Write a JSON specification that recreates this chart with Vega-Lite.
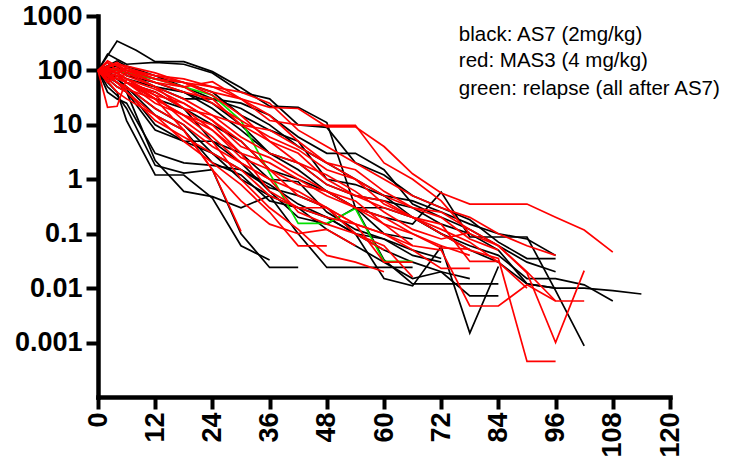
{
"$schema":"https://vega.github.io/schema/vega-lite/v6.json",
"autosize":"none",
"width":572,"height":381,
"padding":{"left":98,"top":16,"right":60,"bottom":62},
"background":"white",
"config":{"view":{"stroke":null},
"axis":{"domainColor":"#000","domainWidth":4.5,"domainCap":"square","tickColor":"#000","tickWidth":4,"tickSize":12,"labelColor":"#000","labelFont":"Liberation Sans","labelFontWeight":"bold","labelFontSize":27,"grid":false,"labelFlush":false,"labelOverlap":false,"title":null}},
"datasets":{
"b":[
{"s":"B1","t":0,"v":100},{"s":"B1","t":4,"v":347},{"s":"B1","t":8,"v":235},{"s":"B1","t":12,"v":145},{"s":"B1","t":18,"v":145},{"s":"B1","t":24,"v":95},{"s":"B1","t":30,"v":48},{"s":"B1","t":36,"v":22},{"s":"B1","t":42,"v":21},{"s":"B1","t":48,"v":11},{"s":"B1","t":54,"v":0.3},{"s":"B1","t":60,"v":0.033},{"s":"B1","t":66,"v":0.012},{"s":"B1","t":72,"v":0.012},{"s":"B1","t":78,"v":0.012},{"s":"B1","t":84,"v":0.012},
{"s":"B2","t":0,"v":100},{"s":"B2","t":2,"v":200},{"s":"B2","t":4,"v":160},{"s":"B2","t":6,"v":130},{"s":"B2","t":12,"v":140},{"s":"B2","t":18,"v":130},{"s":"B2","t":24,"v":90},{"s":"B2","t":30,"v":40},{"s":"B2","t":36,"v":30},{"s":"B2","t":42,"v":10},{"s":"B2","t":48,"v":9},{"s":"B2","t":54,"v":2},{"s":"B2","t":60,"v":1.2},{"s":"B2","t":66,"v":0.5},{"s":"B2","t":72,"v":0.3},{"s":"B2","t":78,"v":0.18},{"s":"B2","t":84,"v":0.07},{"s":"B2","t":90,"v":0.035},{"s":"B2","t":96,"v":0.035},
{"s":"B3","t":0,"v":100},{"s":"B3","t":2,"v":60},{"s":"B3","t":4,"v":40},{"s":"B3","t":6,"v":12},{"s":"B3","t":12,"v":1.2},{"s":"B3","t":18,"v":1.2},{"s":"B3","t":24,"v":0.45},{"s":"B3","t":30,"v":0.06},{"s":"B3","t":36,"v":0.033},
{"s":"B4","t":0,"v":100},{"s":"B4","t":2,"v":50},{"s":"B4","t":4,"v":35},{"s":"B4","t":6,"v":20},{"s":"B4","t":12,"v":1.8},{"s":"B4","t":18,"v":1.3},{"s":"B4","t":24,"v":1.5},{"s":"B4","t":30,"v":0.1},{"s":"B4","t":36,"v":0.024},{"s":"B4","t":42,"v":0.024},
{"s":"B5","t":0,"v":100},{"s":"B5","t":4,"v":60},{"s":"B5","t":6,"v":40},{"s":"B5","t":12,"v":2.2},{"s":"B5","t":18,"v":0.6},{"s":"B5","t":24,"v":0.48},{"s":"B5","t":30,"v":0.3},{"s":"B5","t":36,"v":0.5},{"s":"B5","t":42,"v":0.1},{"s":"B5","t":48,"v":0.024},{"s":"B5","t":54,"v":0.024},{"s":"B5","t":60,"v":0.024},{"s":"B5","t":66,"v":0.024},
{"s":"B6","t":0,"v":100},{"s":"B6","t":4,"v":70},{"s":"B6","t":6,"v":50},{"s":"B6","t":12,"v":20},{"s":"B6","t":18,"v":10},{"s":"B6","t":24,"v":3},{"s":"B6","t":30,"v":1.5},{"s":"B6","t":36,"v":0.7},{"s":"B6","t":42,"v":0.5},{"s":"B6","t":48,"v":0.3},{"s":"B6","t":54,"v":0.1},{"s":"B6","t":60,"v":0.015},{"s":"B6","t":66,"v":0.011},{"s":"B6","t":72,"v":0.058},{"s":"B6","t":78,"v":0.0015},{"s":"B6","t":84,"v":0.025},
{"s":"B7","t":0,"v":100},{"s":"B7","t":4,"v":90},{"s":"B7","t":6,"v":70},{"s":"B7","t":12,"v":50},{"s":"B7","t":18,"v":40},{"s":"B7","t":24,"v":20},{"s":"B7","t":30,"v":8},{"s":"B7","t":36,"v":3},{"s":"B7","t":42,"v":1.5},{"s":"B7","t":48,"v":0.6},{"s":"B7","t":54,"v":0.3},{"s":"B7","t":60,"v":0.2},{"s":"B7","t":66,"v":0.15},{"s":"B7","t":72,"v":0.58},{"s":"B7","t":78,"v":0.087},{"s":"B7","t":84,"v":0.087},{"s":"B7","t":90,"v":0.087},{"s":"B7","t":96,"v":0.009},{"s":"B7","t":102,"v":0.00087},
{"s":"B8","t":0,"v":100},{"s":"B8","t":4,"v":120},{"s":"B8","t":6,"v":80},{"s":"B8","t":12,"v":60},{"s":"B8","t":18,"v":40},{"s":"B8","t":24,"v":25},{"s":"B8","t":30,"v":10},{"s":"B8","t":36,"v":3},{"s":"B8","t":42,"v":2},{"s":"B8","t":48,"v":0.8},{"s":"B8","t":54,"v":0.5},{"s":"B8","t":60,"v":0.4},{"s":"B8","t":66,"v":0.3},{"s":"B8","t":72,"v":0.15},{"s":"B8","t":78,"v":0.1},{"s":"B8","t":84,"v":0.05},{"s":"B8","t":90,"v":0.012},{"s":"B8","t":96,"v":0.01},{"s":"B8","t":102,"v":0.01},{"s":"B8","t":108,"v":0.009},{"s":"B8","t":114,"v":0.0078},
{"s":"B9","t":0,"v":100},{"s":"B9","t":4,"v":80},{"s":"B9","t":6,"v":60},{"s":"B9","t":12,"v":40},{"s":"B9","t":18,"v":20},{"s":"B9","t":24,"v":10},{"s":"B9","t":30,"v":5},{"s":"B9","t":36,"v":1.5},{"s":"B9","t":42,"v":1},{"s":"B9","t":48,"v":0.6},{"s":"B9","t":54,"v":0.3},{"s":"B9","t":60,"v":0.3},{"s":"B9","t":66,"v":0.2},{"s":"B9","t":72,"v":0.1},{"s":"B9","t":78,"v":0.06},{"s":"B9","t":84,"v":0.04},{"s":"B9","t":90,"v":0.015},{"s":"B9","t":96,"v":0.015},{"s":"B9","t":102,"v":0.0115},{"s":"B9","t":108,"v":0.0058},
{"s":"B10","t":0,"v":100},{"s":"B10","t":4,"v":50},{"s":"B10","t":6,"v":40},{"s":"B10","t":12,"v":8},{"s":"B10","t":18,"v":5},{"s":"B10","t":24,"v":3},{"s":"B10","t":30,"v":1},{"s":"B10","t":36,"v":0.5},{"s":"B10","t":42,"v":0.3},{"s":"B10","t":48,"v":0.2},{"s":"B10","t":54,"v":0.1},{"s":"B10","t":60,"v":0.05},{"s":"B10","t":66,"v":0.03},{"s":"B10","t":72,"v":0.02},{"s":"B10","t":78,"v":0.0072},{"s":"B10","t":84,"v":0.0072},
{"s":"B11","t":0,"v":100},{"s":"B11","t":2,"v":70},{"s":"B11","t":4,"v":80},{"s":"B11","t":6,"v":60},{"s":"B11","t":12,"v":30},{"s":"B11","t":18,"v":20},{"s":"B11","t":24,"v":5},{"s":"B11","t":30,"v":3},{"s":"B11","t":36,"v":1},{"s":"B11","t":42,"v":0.9},{"s":"B11","t":48,"v":0.25},{"s":"B11","t":54,"v":0.12},{"s":"B11","t":60,"v":0.08},{"s":"B11","t":66,"v":0.05},{"s":"B11","t":72,"v":0.035},
{"s":"B13","t":0,"v":100},{"s":"B13","t":2,"v":40},{"s":"B13","t":4,"v":30},{"s":"B13","t":6,"v":25},{"s":"B13","t":12,"v":3},{"s":"B13","t":18,"v":2},{"s":"B13","t":24,"v":1.8},{"s":"B13","t":30,"v":1.5},{"s":"B13","t":36,"v":0.8},{"s":"B13","t":42,"v":0.35},{"s":"B13","t":48,"v":0.2},{"s":"B13","t":54,"v":0.1},{"s":"B13","t":60,"v":0.08},{"s":"B13","t":66,"v":0.04},{"s":"B13","t":72,"v":0.03},
{"s":"B14","t":0,"v":100},{"s":"B14","t":4,"v":60},{"s":"B14","t":6,"v":45},{"s":"B14","t":12,"v":10},{"s":"B14","t":18,"v":5},{"s":"B14","t":24,"v":5},{"s":"B14","t":30,"v":2},{"s":"B14","t":36,"v":0.6},{"s":"B14","t":42,"v":0.2},{"s":"B14","t":48,"v":0.15},{"s":"B14","t":54,"v":0.3},{"s":"B14","t":60,"v":0.1},{"s":"B14","t":66,"v":0.08},
{"s":"B15","t":0,"v":100},{"s":"B15","t":4,"v":100},{"s":"B15","t":6,"v":90},{"s":"B15","t":12,"v":70},{"s":"B15","t":18,"v":60},{"s":"B15","t":24,"v":40},{"s":"B15","t":30,"v":15},{"s":"B15","t":36,"v":8},{"s":"B15","t":42,"v":5},{"s":"B15","t":48,"v":1},{"s":"B15","t":54,"v":0.8},{"s":"B15","t":60,"v":0.5},{"s":"B15","t":66,"v":0.2},{"s":"B15","t":72,"v":0.1},{"s":"B15","t":78,"v":0.05},{"s":"B15","t":84,"v":0.03},{"s":"B15","t":90,"v":0.012},{"s":"B15","t":96,"v":0.01},
{"s":"B16","t":0,"v":100},{"s":"B16","t":2,"v":80},{"s":"B16","t":4,"v":110},{"s":"B16","t":6,"v":90},{"s":"B16","t":12,"v":50},{"s":"B16","t":18,"v":30},{"s":"B16","t":24,"v":30},{"s":"B16","t":30,"v":20},{"s":"B16","t":36,"v":10},{"s":"B16","t":42,"v":4},{"s":"B16","t":48,"v":2},{"s":"B16","t":54,"v":1},{"s":"B16","t":60,"v":0.5},{"s":"B16","t":66,"v":0.4},{"s":"B16","t":72,"v":0.25},{"s":"B16","t":78,"v":0.15},{"s":"B16","t":84,"v":0.1},{"s":"B16","t":90,"v":0.08},{"s":"B16","t":96,"v":0.04},
{"s":"B17","t":0,"v":100},{"s":"B17","t":4,"v":70},{"s":"B17","t":6,"v":50},{"s":"B17","t":12,"v":15},{"s":"B17","t":18,"v":8},{"s":"B17","t":24,"v":2},{"s":"B17","t":30,"v":1.2},{"s":"B17","t":36,"v":0.4},{"s":"B17","t":42,"v":0.3},{"s":"B17","t":48,"v":0.12},{"s":"B17","t":54,"v":0.06},{"s":"B17","t":60,"v":0.03},{"s":"B17","t":66,"v":0.015},{"s":"B17","t":72,"v":0.02},{"s":"B17","t":78,"v":0.015},
{"s":"B18","t":0,"v":100},{"s":"B18","t":4,"v":150},{"s":"B18","t":6,"v":120},{"s":"B18","t":12,"v":80},{"s":"B18","t":18,"v":50},{"s":"B18","t":24,"v":30},{"s":"B18","t":30,"v":25},{"s":"B18","t":36,"v":15},{"s":"B18","t":42,"v":6},{"s":"B18","t":48,"v":3},{"s":"B18","t":54,"v":3},{"s":"B18","t":60,"v":1.5},{"s":"B18","t":66,"v":0.35},{"s":"B18","t":72,"v":0.2},{"s":"B18","t":78,"v":0.12},{"s":"B18","t":84,"v":0.06},{"s":"B18","t":90,"v":0.03},{"s":"B18","t":96,"v":0.02}
],
"r":[
{"s":"R1","t":0,"v":100},{"s":"R1","t":2,"v":150},{"s":"R1","t":4,"v":120},{"s":"R1","t":6,"v":100},{"s":"R1","t":12,"v":70},{"s":"R1","t":18,"v":60},{"s":"R1","t":24,"v":50},{"s":"R1","t":30,"v":30},{"s":"R1","t":36,"v":21},{"s":"R1","t":42,"v":20},{"s":"R1","t":48,"v":9.2},{"s":"R1","t":54,"v":9.2},{"s":"R1","t":60,"v":4},{"s":"R1","t":66,"v":1.26},{"s":"R1","t":72,"v":0.56},{"s":"R1","t":78,"v":0.35},{"s":"R1","t":84,"v":0.35},{"s":"R1","t":90,"v":0.35},{"s":"R1","t":96,"v":0.2},{"s":"R1","t":102,"v":0.117},{"s":"R1","t":108,"v":0.046},
{"s":"R2","t":0,"v":100},{"s":"R2","t":2,"v":120},{"s":"R2","t":4,"v":140},{"s":"R2","t":6,"v":110},{"s":"R2","t":12,"v":80},{"s":"R2","t":18,"v":60},{"s":"R2","t":24,"v":40},{"s":"R2","t":30,"v":30},{"s":"R2","t":36,"v":12},{"s":"R2","t":42,"v":10},{"s":"R2","t":48,"v":9.8},{"s":"R2","t":54,"v":9.8},{"s":"R2","t":60,"v":2},{"s":"R2","t":66,"v":1},{"s":"R2","t":72,"v":0.4},{"s":"R2","t":78,"v":0.1},{"s":"R2","t":84,"v":0.06},{"s":"R2","t":90,"v":0.019},{"s":"R2","t":96,"v":0.001},{"s":"R2","t":102,"v":0.021},
{"s":"R3","t":0,"v":100},{"s":"R3","t":4,"v":110},{"s":"R3","t":6,"v":90},{"s":"R3","t":12,"v":60},{"s":"R3","t":18,"v":40},{"s":"R3","t":24,"v":30},{"s":"R3","t":30,"v":10},{"s":"R3","t":36,"v":8},{"s":"R3","t":42,"v":4},{"s":"R3","t":48,"v":2},{"s":"R3","t":54,"v":1.5},{"s":"R3","t":60,"v":0.6},{"s":"R3","t":66,"v":0.3},{"s":"R3","t":72,"v":0.25},{"s":"R3","t":78,"v":0.12},{"s":"R3","t":84,"v":0.06},{"s":"R3","t":90,"v":0.02},{"s":"R3","t":96,"v":0.0058},{"s":"R3","t":102,"v":0.0058},
{"s":"R4","t":0,"v":100},{"s":"R4","t":4,"v":80},{"s":"R4","t":6,"v":60},{"s":"R4","t":12,"v":40},{"s":"R4","t":18,"v":20},{"s":"R4","t":24,"v":15},{"s":"R4","t":30,"v":6},{"s":"R4","t":36,"v":3},{"s":"R4","t":42,"v":2},{"s":"R4","t":48,"v":0.8},{"s":"R4","t":54,"v":0.5},{"s":"R4","t":60,"v":0.3},{"s":"R4","t":66,"v":0.2},{"s":"R4","t":72,"v":0.1},{"s":"R4","t":78,"v":0.05},{"s":"R4","t":84,"v":0.035},{"s":"R4","t":90,"v":0.00045},{"s":"R4","t":96,"v":0.00045},
{"s":"R5","t":0,"v":100},{"s":"R5","t":2,"v":70},{"s":"R5","t":4,"v":90},{"s":"R5","t":6,"v":70},{"s":"R5","t":12,"v":35},{"s":"R5","t":18,"v":25},{"s":"R5","t":24,"v":12},{"s":"R5","t":30,"v":4},{"s":"R5","t":36,"v":2.5},{"s":"R5","t":42,"v":1.2},{"s":"R5","t":48,"v":0.6},{"s":"R5","t":54,"v":0.3},{"s":"R5","t":60,"v":0.15},{"s":"R5","t":66,"v":0.06},{"s":"R5","t":72,"v":0.05},{"s":"R5","t":78,"v":0.0047},{"s":"R5","t":84,"v":0.0047},{"s":"R5","t":90,"v":0.0115},{"s":"R5","t":96,"v":0.0058},
{"s":"R6","t":0,"v":100},{"s":"R6","t":2,"v":60},{"s":"R6","t":4,"v":80},{"s":"R6","t":6,"v":60},{"s":"R6","t":12,"v":25},{"s":"R6","t":18,"v":15},{"s":"R6","t":24,"v":10},{"s":"R6","t":30,"v":3},{"s":"R6","t":36,"v":2},{"s":"R6","t":42,"v":1},{"s":"R6","t":48,"v":0.5},{"s":"R6","t":54,"v":0.3},{"s":"R6","t":60,"v":0.2},{"s":"R6","t":66,"v":0.1},{"s":"R6","t":72,"v":0.055},{"s":"R6","t":78,"v":0.052},
{"s":"R7","t":0,"v":100},{"s":"R7","t":4,"v":50},{"s":"R7","t":6,"v":40},{"s":"R7","t":12,"v":12},{"s":"R7","t":18,"v":6},{"s":"R7","t":24,"v":3},{"s":"R7","t":30,"v":1.5},{"s":"R7","t":36,"v":0.5},{"s":"R7","t":42,"v":0.3},{"s":"R7","t":48,"v":0.3},{"s":"R7","t":54,"v":0.15},{"s":"R7","t":60,"v":0.1},{"s":"R7","t":66,"v":0.05},{"s":"R7","t":72,"v":0.023},{"s":"R7","t":78,"v":0.023},
{"s":"R8","t":0,"v":100},{"s":"R8","t":4,"v":100},{"s":"R8","t":6,"v":80},{"s":"R8","t":12,"v":50},{"s":"R8","t":18,"v":30},{"s":"R8","t":24,"v":15},{"s":"R8","t":30,"v":10},{"s":"R8","t":36,"v":5},{"s":"R8","t":42,"v":3},{"s":"R8","t":48,"v":1},{"s":"R8","t":54,"v":0.5},{"s":"R8","t":60,"v":0.4},{"s":"R8","t":66,"v":0.2},{"s":"R8","t":72,"v":0.15},{"s":"R8","t":78,"v":0.031},{"s":"R8","t":84,"v":0.031},
{"s":"R9","t":0,"v":100},{"s":"R9","t":4,"v":60},{"s":"R9","t":6,"v":50},{"s":"R9","t":12,"v":20},{"s":"R9","t":18,"v":10},{"s":"R9","t":24,"v":4},{"s":"R9","t":30,"v":2},{"s":"R9","t":36,"v":1},{"s":"R9","t":42,"v":0.6},{"s":"R9","t":48,"v":0.3},{"s":"R9","t":54,"v":0.1},{"s":"R9","t":60,"v":0.06},{"s":"R9","t":66,"v":0.016},
{"s":"R10","t":0,"v":100},{"s":"R10","t":2,"v":80},{"s":"R10","t":4,"v":60},{"s":"R10","t":6,"v":40},{"s":"R10","t":12,"v":15},{"s":"R10","t":18,"v":5},{"s":"R10","t":24,"v":2},{"s":"R10","t":30,"v":0.8},{"s":"R10","t":36,"v":0.25},{"s":"R10","t":42,"v":0.06},{"s":"R10","t":48,"v":0.06},
{"s":"R11","t":0,"v":100},{"s":"R11","t":2,"v":21},{"s":"R11","t":4,"v":22},{"s":"R11","t":6,"v":70},{"s":"R11","t":12,"v":30},{"s":"R11","t":18,"v":8},{"s":"R11","t":24,"v":1.5},{"s":"R11","t":30,"v":0.11},
{"s":"R13","t":0,"v":100},{"s":"R13","t":4,"v":130},{"s":"R13","t":6,"v":120},{"s":"R13","t":12,"v":90},{"s":"R13","t":18,"v":60},{"s":"R13","t":24,"v":35},{"s":"R13","t":30,"v":15},{"s":"R13","t":36,"v":5},{"s":"R13","t":42,"v":2},{"s":"R13","t":48,"v":1.2},{"s":"R13","t":54,"v":0.6},{"s":"R13","t":60,"v":0.25},{"s":"R13","t":66,"v":0.12},{"s":"R13","t":72,"v":0.08},{"s":"R13","t":78,"v":0.105},
{"s":"R14","t":0,"v":100},{"s":"R14","t":2,"v":140},{"s":"R14","t":4,"v":100},{"s":"R14","t":6,"v":110},{"s":"R14","t":12,"v":70},{"s":"R14","t":18,"v":50},{"s":"R14","t":24,"v":62},{"s":"R14","t":30,"v":30},{"s":"R14","t":36,"v":15},{"s":"R14","t":42,"v":5},{"s":"R14","t":48,"v":2},{"s":"R14","t":54,"v":1},{"s":"R14","t":60,"v":0.5},{"s":"R14","t":66,"v":0.3},{"s":"R14","t":72,"v":0.2},{"s":"R14","t":78,"v":0.08},{"s":"R14","t":84,"v":0.05},
{"s":"R15","t":0,"v":100},{"s":"R15","t":4,"v":70},{"s":"R15","t":6,"v":90},{"s":"R15","t":12,"v":50},{"s":"R15","t":18,"v":20},{"s":"R15","t":24,"v":8},{"s":"R15","t":30,"v":3},{"s":"R15","t":36,"v":0.6},{"s":"R15","t":42,"v":0.3},{"s":"R15","t":48,"v":0.2},{"s":"R15","t":54,"v":0.15},{"s":"R15","t":60,"v":0.1},{"s":"R15","t":66,"v":0.06},
{"s":"R16","t":0,"v":100},{"s":"R16","t":4,"v":40},{"s":"R16","t":6,"v":30},{"s":"R16","t":12,"v":15},{"s":"R16","t":18,"v":8},{"s":"R16","t":24,"v":1.5},{"s":"R16","t":30,"v":0.4},{"s":"R16","t":36,"v":0.15},{"s":"R16","t":42,"v":0.1},{"s":"R16","t":48,"v":0.12},{"s":"R16","t":54,"v":0.06},
{"s":"R17","t":0,"v":100},{"s":"R17","t":4,"v":90},{"s":"R17","t":6,"v":70},{"s":"R17","t":12,"v":45},{"s":"R17","t":18,"v":25},{"s":"R17","t":24,"v":12},{"s":"R17","t":30,"v":5},{"s":"R17","t":36,"v":1.5},{"s":"R17","t":42,"v":0.8},{"s":"R17","t":48,"v":0.6},{"s":"R17","t":54,"v":0.4},{"s":"R17","t":60,"v":0.15},{"s":"R17","t":66,"v":0.1},{"s":"R17","t":72,"v":0.06},{"s":"R17","t":78,"v":0.04},
{"s":"R18","t":0,"v":100},{"s":"R18","t":2,"v":90},{"s":"R18","t":4,"v":60},{"s":"R18","t":6,"v":45},{"s":"R18","t":12,"v":30},{"s":"R18","t":18,"v":15},{"s":"R18","t":24,"v":6},{"s":"R18","t":30,"v":2},{"s":"R18","t":36,"v":1},{"s":"R18","t":42,"v":0.25},{"s":"R18","t":48,"v":0.15},{"s":"R18","t":54,"v":0.1},{"s":"R18","t":60,"v":0.05},
{"s":"R19","t":0,"v":100},{"s":"R19","t":4,"v":130},{"s":"R19","t":6,"v":100},{"s":"R19","t":12,"v":60},{"s":"R19","t":18,"v":50},{"s":"R19","t":24,"v":25},{"s":"R19","t":30,"v":12},{"s":"R19","t":36,"v":6},{"s":"R19","t":42,"v":3.5},{"s":"R19","t":48,"v":1.5},{"s":"R19","t":54,"v":1},{"s":"R19","t":60,"v":0.35},{"s":"R19","t":66,"v":0.2},{"s":"R19","t":72,"v":0.12},{"s":"R19","t":78,"v":0.07},{"s":"R19","t":84,"v":0.03},{"s":"R19","t":90,"v":0.01},
{"s":"R20","t":0,"v":100},{"s":"R20","t":4,"v":70},{"s":"R20","t":6,"v":60},{"s":"R20","t":12,"v":35},{"s":"R20","t":18,"v":12},{"s":"R20","t":24,"v":5},{"s":"R20","t":30,"v":1},{"s":"R20","t":36,"v":0.3},{"s":"R20","t":42,"v":0.12},{"s":"R20","t":48,"v":0.04},{"s":"R20","t":54,"v":0.03},{"s":"R20","t":60,"v":0.02},
{"s":"R21","t":0,"v":100},{"s":"R21","t":4,"v":90},{"s":"R21","t":6,"v":60},{"s":"R21","t":12,"v":30},{"s":"R21","t":18,"v":15},{"s":"R21","t":24,"v":8},{"s":"R21","t":30,"v":2.5},{"s":"R21","t":36,"v":1.5},{"s":"R21","t":42,"v":0.5},{"s":"R21","t":48,"v":0.3},{"s":"R21","t":54,"v":0.15},{"s":"R21","t":60,"v":0.03},{"s":"R21","t":66,"v":0.03},
{"s":"R22","t":0,"v":100},{"s":"R22","t":2,"v":110},{"s":"R22","t":4,"v":90},{"s":"R22","t":6,"v":100},{"s":"R22","t":12,"v":80},{"s":"R22","t":18,"v":70},{"s":"R22","t":24,"v":50},{"s":"R22","t":30,"v":40},{"s":"R22","t":36,"v":25},{"s":"R22","t":42,"v":8},{"s":"R22","t":48,"v":4},{"s":"R22","t":54,"v":2},{"s":"R22","t":60,"v":1},{"s":"R22","t":66,"v":0.5},{"s":"R22","t":72,"v":0.3},{"s":"R22","t":78,"v":0.2},{"s":"R22","t":84,"v":0.1},{"s":"R22","t":90,"v":0.06},{"s":"R22","t":96,"v":0.04}
],
"g":[
{"s":"G1","t":0,"v":100},{"s":"G1","t":2,"v":110},{"s":"G1","t":4,"v":100},{"s":"G1","t":6,"v":90},{"s":"G1","t":12,"v":70},{"s":"G1","t":18,"v":50},{"s":"G1","t":24,"v":35},{"s":"G1","t":30,"v":12},{"s":"G1","t":36,"v":1.3},{"s":"G1","t":42,"v":0.155},{"s":"G1","t":48,"v":0.155},{"s":"G1","t":54,"v":0.29},{"s":"G1","t":60,"v":0.031},{"s":"G1","t":66,"v":0.031}
],
"notes":[
{"label":"black: AS7 (2mg/kg)","t":75.7,"v":443},
{"label":"red: MAS3 (4 mg/kg)","t":75.7,"v":146},
{"label":"green: relapse (all after AS7)","t":75.7,"v":45}
]},
"encoding":{
"x":{"field":"t","type":"quantitative","scale":{"domain":[0,120],"nice":false,"zero":false},
"axis":{"values":[0,12,24,36,48,60,72,84,96,108,120],"labelAngle":-90,"labelPadding":3}},
"y":{"field":"v","type":"quantitative","scale":{"type":"log","domain":[0.0001,1000],"nice":false},
"axis":{"values":[0.001,0.01,0.1,1,10,100,1000],"labelExpr":"'' + datum.value","labelPadding":4}}
},
"layer":[
{"data":{"name":"b"},"mark":{"type":"line","color":"#000000","strokeWidth":1.7},"encoding":{"detail":{"field":"s"}}},
{"data":{"name":"g"},"mark":{"type":"line","color":"#00e000","strokeWidth":1.7},"encoding":{"detail":{"field":"s"}}},
{"data":{"name":"r"},"mark":{"type":"line","color":"#ff0000","strokeWidth":1.7},"encoding":{"detail":{"field":"s"}}},
{"data":{"name":"notes"},"mark":{"type":"text","align":"left","baseline":"middle","font":"Liberation Sans","fontSize":20.5,"color":"#000"},"encoding":{"text":{"field":"label"}}}
]
}
